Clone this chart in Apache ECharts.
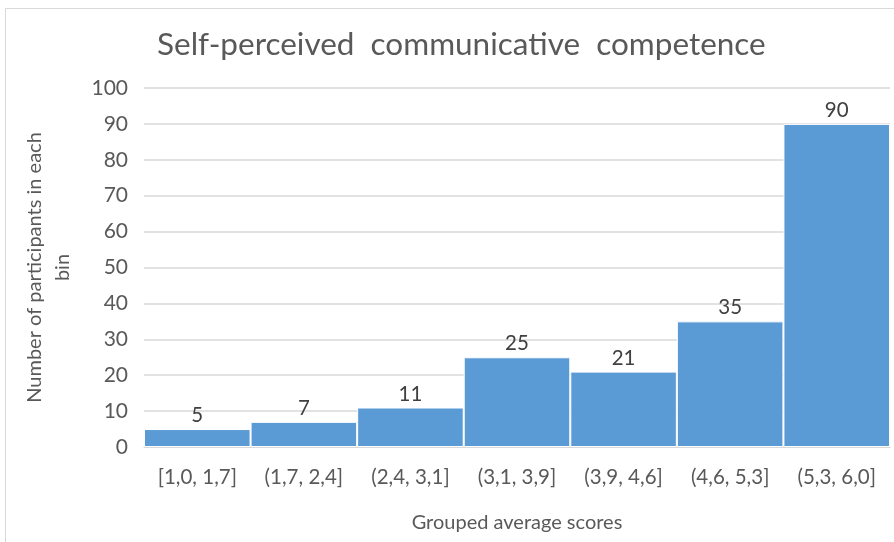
<!DOCTYPE html>
<html>
<head>
<meta charset="utf-8">
<script src="https://cdn.jsdelivr.net/npm/echarts@6/dist/echarts.min.js"></script>
<style>
html,body{margin:0;padding:0;background:#fff;}
#chart{width:894px;height:542px;}
</style>
</head>
<body>
<div id="chart"></div>
<script>
// Score bins and how many participants fall in each
const bins = ['[1,0, 1,7]', '(1,7, 2,4]', '(2,4, 3,1]', '(3,1, 3,9]', '(3,9, 4,6]', '(4,6, 5,3]', '(5,3, 6,0]'];
const counts = [5, 7, 11, 25, 21, 35, 90];
const yTicks = [0, 100, 10]; // min, max, step

const FONT = 'Lato, "Open Sans", sans-serif';
const chart = echarts.init(document.getElementById('chart'), null, { renderer: 'canvas' });

chart.setOption({
  backgroundColor: '#ffffff',
  animation: false,
  graphic: [{
    type: 'rect',
    shape: { x: 5.5, y: 8.5, width: 900, height: 560 },
    style: { fill: 'none', stroke: '#d9d9d9', lineWidth: 1 },
    silent: true
  }],
  title: {
    text: 'Self-perceived  communicative  competence',
    left: 152,
    top: 24,
    textStyle: { fontFamily: FONT, fontSize: 31.5, fontWeight: 'normal', color: '#595959' }
  },
  grid: { left: 144, right: 4, top: 88, bottom: 95, containLabel: false },
  xAxis: {
    type: 'category',
    data: bins,
    name: 'Grouped average scores',
    nameLocation: 'middle',
    nameGap: 66,
    nameTextStyle: { fontFamily: FONT, fontSize: 20, color: '#595959' },
    axisLine: { show: true, lineStyle: { color: '#d9d9d9', width: 1 } },
    axisTick: { show: false },
    axisLabel: { fontFamily: FONT, fontSize: 20.5, color: '#595959', margin: 20 }
  },
  yAxis: {
    type: 'value',
    min: yTicks[0],
    max: yTicks[1],
    interval: yTicks[2],
    name: 'Number of participants in each\nbin',
    nameLocation: 'middle',
    nameGap: 67,
    nameTextStyle: { fontFamily: FONT, fontSize: 20, color: '#595959', lineHeight: 28 },
    axisLine: { show: false },
    axisTick: { show: false },
    axisLabel: { fontFamily: FONT, fontSize: 21, color: '#595959', margin: 16 },
    splitLine: { lineStyle: { color: '#d9d9d9', width: 1.5 } }
  },
  series: [{
    type: 'bar',
    data: counts,
    barCategoryGap: '0%',
    itemStyle: { color: '#5b9bd5', borderColor: '#ffffff', borderWidth: 1 },
    label: {
      show: true,
      position: 'top',
      distance: 3,
      fontFamily: FONT,
      fontSize: 20.5,
      color: '#404040'
    }
  }]
});
</script>
</body>
</html>
